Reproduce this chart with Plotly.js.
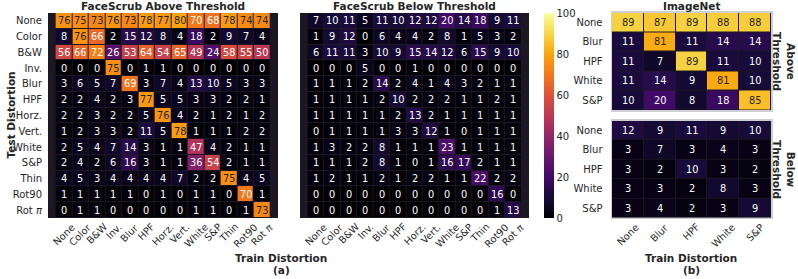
<!DOCTYPE html>
<html><head><meta charset="utf-8">
<script src="https://cdn.plot.ly/plotly-3.0.1.min.js"></script>
<style>html,body{margin:0;padding:0;background:#fff}</style>
</head><body><div id="chart" style="width:798px;height:279px"></div>
<script>
// ---------------- data ----------------
const fsLabels = ['None','Color','B&W','Inv.','Blur','HPF','Horz.','Vert.','White','S&P','Thin','Rot90','Rot <i>π</i>'];
const fsAbove = [
  [76,75,73,76,73,78,77,80,70,68,78,74,74],
  [8,76,66,2,15,12,8,4,18,2,9,7,4],
  [56,66,72,26,53,64,54,65,49,24,58,55,50],
  [0,0,0,75,0,1,1,0,0,0,0,0,0],
  [3,6,5,7,69,3,7,4,13,10,5,3,3],
  [2,2,4,2,3,77,5,5,3,3,2,2,1],
  [2,2,3,2,2,5,76,4,2,1,2,1,2],
  [1,2,3,3,2,11,5,78,1,1,1,2,2],
  [2,5,4,7,14,3,1,1,47,4,2,1,1],
  [2,4,2,6,16,3,1,1,36,54,2,1,1],
  [4,5,3,4,4,4,4,7,2,2,75,4,5],
  [1,1,1,1,1,0,1,0,1,1,0,70,1],
  [0,1,1,0,0,0,0,0,1,1,0,1,73]
];
const fsBelow = [
  [7,10,11,5,11,10,12,12,20,14,18,9,11],
  [1,9,12,0,6,4,4,2,8,1,5,3,2],
  [6,11,11,3,10,9,15,14,12,6,15,9,10],
  [0,0,0,5,0,0,1,0,0,0,0,0,0],
  [1,1,1,2,14,2,4,1,4,3,2,1,1],
  [1,1,1,1,2,10,2,2,2,1,1,2,1],
  [1,1,1,1,1,2,13,2,1,1,1,1,1],
  [0,1,1,1,1,3,3,12,1,0,1,1,1],
  [1,3,2,2,8,1,1,1,23,1,1,1,1],
  [1,1,1,2,8,1,0,1,16,17,2,1,1],
  [1,2,1,1,2,1,2,2,1,1,22,2,2],
  [0,0,0,0,0,0,0,0,0,0,0,16,0],
  [0,0,0,0,0,0,0,0,0,0,0,1,13]
];
const inLabels = ['None','Blur','HPF','White','S&P'];
const inAbove = [
  [89,87,89,88,88],
  [11,81,11,14,14],
  [11,7,89,11,10],
  [11,14,9,81,10],
  [10,20,8,18,85]
];
const inBelow = [
  [12,9,11,9,10],
  [3,7,3,4,3],
  [3,2,10,3,2],
  [3,3,2,8,3],
  [3,4,2,3,9]
];
const cbTicks = [0,20,40,60,80,100];

// ---------------- layout helpers ----------------
const W = 798, H = 279;
const px = v => v / W;
const py = v => 1 - v / H;
const FONT = 'DejaVu Sans';
const TXT = '#262626';

const inferno = [
  [0.0,'#000004'],[0.1,'#160b39'],[0.2,'#420a68'],[0.3,'#6a176e'],
  [0.4,'#932667'],[0.5,'#bc3754'],[0.6,'#dd513a'],[0.7,'#f37819'],
  [0.8,'#fca50a'],[0.9,'#f6d746'],[1.0,'#fcffa4']
];

function hm(z, xl, yl, xa, ya, showscale) {
  const t = {
    type: 'heatmap', z: z, x: xl, y: yl, xaxis: xa, yaxis: ya,
    colorscale: inferno, zmin: 0, zmax: 100, xgap: 1, ygap: 1,
    showscale: !!showscale, hoverinfo: 'skip'
  };
  if (showscale) {
    t.colorbar = {
      x: px(544), xanchor: 'left', y: py(13), yanchor: 'top',
      len: 205 / H, lenmode: 'fraction', thickness: 10, thicknessmode: 'pixels',
      outlinewidth: 0, ticks: '', ticklen: 0, tickvals: cbTicks,
      tickfont: {family: FONT, size: 10, color: TXT}, xpad: 0, ypad: 0
    };
  }
  return t;
}

const data = [
  hm(fsAbove, fsLabels, fsLabels, 'x', 'y', true),
  hm(fsBelow, fsLabels, fsLabels, 'x2', 'y2', false),
  hm(inAbove, inLabels, inLabels, 'x3', 'y3', false),
  hm(inBelow, inLabels, inLabels, 'x4', 'y4', false)
];

const annotations = [];
function cells(z, xl, yl, xr, yr) {
  z.forEach((row, i) => row.forEach((v, j) => {
    annotations.push({
      x: xl[j], y: yl[i], xref: xr, yref: yr, text: String(v), showarrow: false,
      font: {family: FONT, size: 9.8, color: v >= 73 ? TXT : '#ffffff'}
    });
  }));
}
cells(fsAbove, fsLabels, fsLabels, 'x', 'y');
cells(fsBelow, fsLabels, fsLabels, 'x2', 'y2');
cells(inAbove, inLabels, inLabels, 'x3', 'y3');
cells(inBelow, inLabels, inLabels, 'x4', 'y4');

function xlabels(labels, xr) {
  labels.forEach(l => annotations.push({
    x: l, xref: xr, y: py(218.5), yref: 'paper', text: l, showarrow: false,
    textangle: -45, xanchor: 'center', yanchor: 'top',
    font: {family: FONT, size: 9.8, color: TXT}
  }));
}
xlabels(fsLabels, 'x');
xlabels(fsLabels, 'x2');
xlabels(inLabels, 'x4');

function paperText(text, x, y, opts) {
  annotations.push(Object.assign({
    x: px(x), y: py(y), xref: 'paper', yref: 'paper', text: text, showarrow: false,
    xanchor: 'center', yanchor: 'middle',
    font: {family: FONT, size: 10.5, color: TXT}
  }, opts || {}));
}
paperText('<b>FaceScrub Above Threshold</b>', 163, 6);
paperText('<b>FaceScrub Below Threshold</b>', 414.5, 6);
paperText('<b>ImageNet</b>', 691.5, 6);
paperText('<b>Test Distortion</b>', 10, 115.5, {textangle: -90});
paperText('<b>Train Distortion</b>', 281, 258);
paperText('<b>(a)</b>', 281, 270);
paperText('<b>Train Distortion</b>', 691, 258);
paperText('<b>(b)</b>', 691, 270);
paperText('<b>Above<br>Threshold</b>', 784, 61, {textangle: 90});
paperText('<b>Below<br>Threshold</b>', 784, 169, {textangle: 90});

const xBase = {type: 'category', showticklabels: false, showgrid: false, zeroline: false, ticks: ''};
const yBase = {type: 'category', autorange: 'reversed', showgrid: false, zeroline: false, ticks: '',
  ticklabelstandoff: 5, tickfont: {family: FONT, size: 10, color: TXT}};
const frame = {showline: true, mirror: true, linecolor: '#cfcfd6', linewidth: 1.5};

const layout = {
  width: W, height: H, margin: {l: 0, r: 0, t: 0, b: 0},
  paper_bgcolor: '#ffffff', plot_bgcolor: '#1c1722', showlegend: false,
  font: {family: FONT, size: 10, color: TXT},
  xaxis: Object.assign({}, xBase, {domain: [px(48), px(278)], anchor: 'y'}),
  yaxis: Object.assign({}, yBase, {domain: [py(218), py(13)], anchor: 'x'}),
  xaxis2: Object.assign({}, xBase, {domain: [px(300), px(529)], anchor: 'y2'}),
  yaxis2: Object.assign({}, yBase, {domain: [py(218), py(13)], anchor: 'x2', showticklabels: false}),
  xaxis3: Object.assign({}, xBase, frame, {domain: [px(612), px(771)], anchor: 'y3'}),
  yaxis3: Object.assign({}, yBase, frame, {domain: [py(110), py(12.5)], anchor: 'x3', ticklabelstandoff: 6}),
  xaxis4: Object.assign({}, xBase, frame, {domain: [px(612), px(771)], anchor: 'y4'}),
  yaxis4: Object.assign({}, yBase, frame, {domain: [py(217.7), py(120.7)], anchor: 'x4', ticklabelstandoff: 6}),
  annotations: annotations
};

Plotly.newPlot('chart', data, layout, {staticPlot: true, displayModeBar: false});
</script>
</body></html>
